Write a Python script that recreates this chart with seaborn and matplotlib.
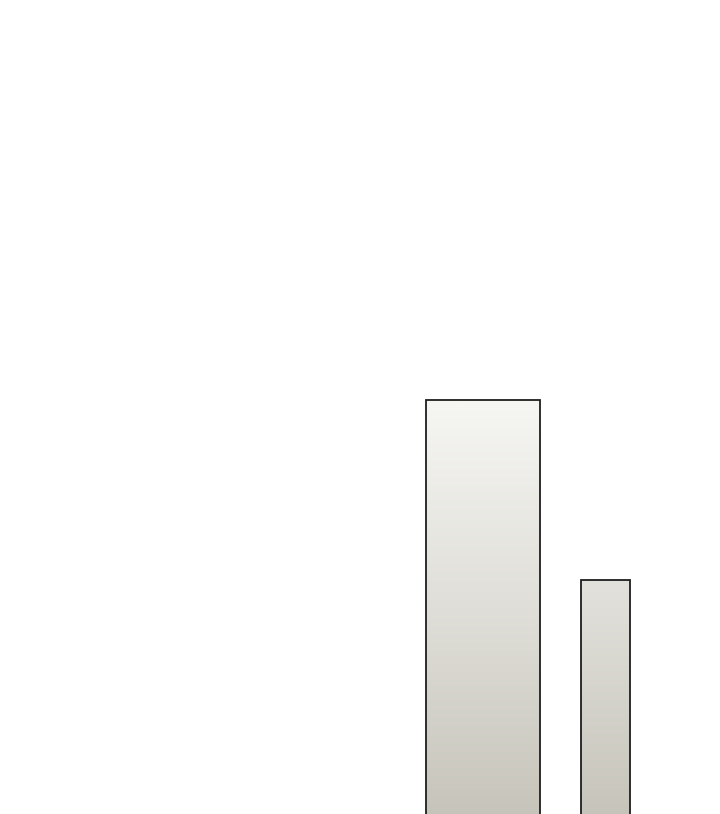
import numpy as np
import pandas as pd
import seaborn as sns
import matplotlib
matplotlib.use('Agg')
import matplotlib.pyplot as plt
from matplotlib.colors import LinearSegmentedColormap

# data
categories = ["A", "B"]
values = [53.0, 30.25]

# layout: baseline sits just below the bottom of the picture
bar_widths = [0.93, 0.40]   # in category units
y_lim = (0.6, 103.6)
x_lim = (-3.943, 1.935)

df = pd.DataFrame({"cat": categories, "val": values})

sns.set_theme(style="white")
fig = plt.figure(figsize=(7.2, 8.14), dpi=100)
ax = fig.add_axes([0, 0, 1, 1])

sns.barplot(data=df, x="cat", y="val", order=categories, width=0.9,
            color="white", edgecolor="#1e1e1e", linewidth=1.3, ax=ax)

# bars fade from warm grey at the baseline to near white at the tallest bar
grad = LinearSegmentedColormap.from_list("fade", ["#c6c4ba", "#dfded8", "#f6f6f3"])
top = max(values)
for patch, w in zip(ax.patches, bar_widths):
    cx = patch.get_x() + patch.get_width() / 2
    patch.set_width(w)
    patch.set_x(cx - w / 2)
    patch.set_facecolor("none")
    x0 = patch.get_x()
    img = ax.imshow(np.linspace(0, 1, 256).reshape(-1, 1), cmap=grad,
                    extent=(x0, x0 + w, 0, top), origin="lower",
                    aspect="auto", zorder=patch.get_zorder() - 0.1)
    img.set_clip_path(patch)

ax.set_xlim(*x_lim)
ax.set_ylim(*y_lim)
ax.axis("off")

fig.savefig("out.png", dpi=100, facecolor="white")
